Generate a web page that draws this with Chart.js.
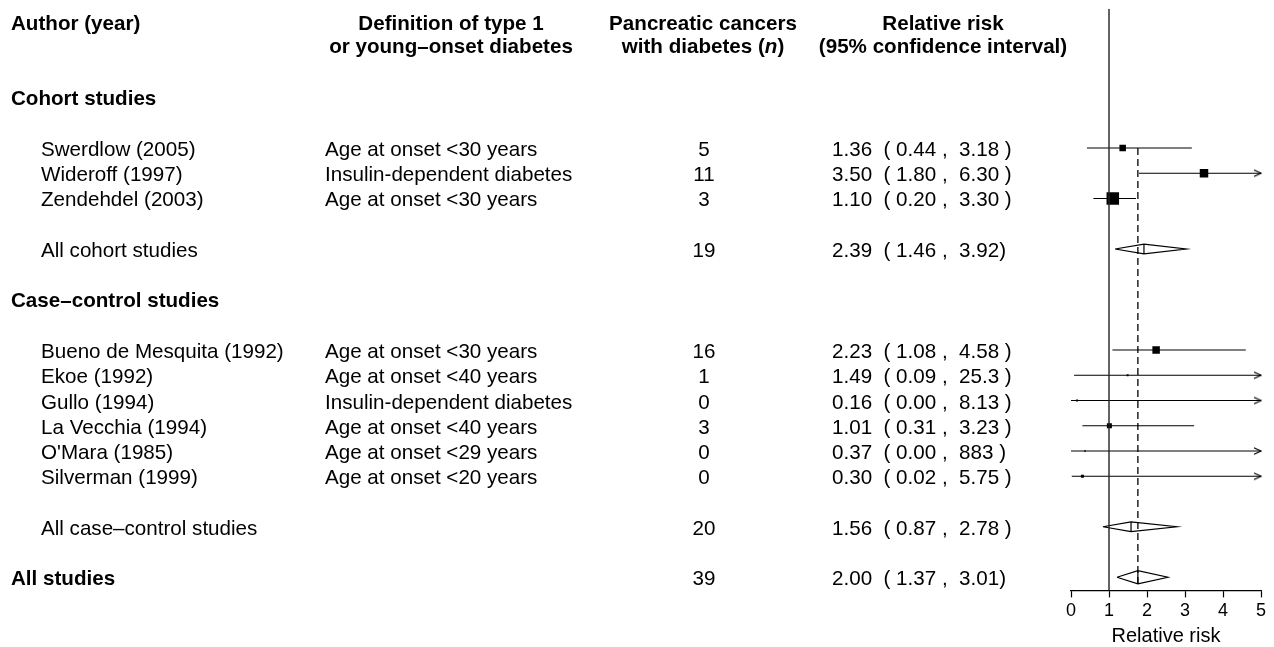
<!DOCTYPE html>
<html><head><meta charset="utf-8">
<script src="https://cdn.jsdelivr.net/npm/chart.js@4/dist/chart.umd.min.js"></script>
<style>html,body{margin:0;padding:0;background:#fff;}#wrap{width:1274px;height:647px;}</style>
</head><body><div id="wrap"><canvas id="c" width="1274" height="647"></canvas></div>
<script>
// ---- data ----
const studies = ["Swerdlow (2005)","Wideroff (1997)","Zendehdel (2003)","All cohort studies",
  "Bueno de Mesquita (1992)","Ekoe (1992)","Gullo (1994)","La Vecchia (1994)","O'Mara (1985)","Silverman (1999)",
  "All case\u2013control studies","All studies"];
const definitions = ["Age at onset <30 years","Insulin-dependent diabetes","Age at onset <30 years","",
  "Age at onset <30 years","Age at onset <40 years","Insulin-dependent diabetes","Age at onset <40 years","Age at onset <29 years","Age at onset <20 years",
  "",""];
const nCases = [5,11,3,19,16,1,0,3,0,0,20,39];
const rrText = ["1.36","3.50","1.10","2.39","2.23","1.49","0.16","1.01","0.37","0.30","1.56","2.00"];
const loText = ["0.44","1.80","0.20","1.46","1.08","0.09","0.00","0.31","0.00","0.02","0.87","1.37"];
const hiText = ["3.18","6.30","3.30","3.92","4.58","25.3","8.13","3.23","883","5.75","2.78","3.01"];
const closeText = [" )"," )"," )",")"," )"," )"," )"," )"," )"," )"," )",")"];
const rowKind = ["study","study","study","summary","study","study","study","study","study","study","summary","total"];
const rowIndex = [0,1,2,4,8,9,10,11,12,13,15,17];
// values as drawn in the plot panel
const plotEst = [1.36,3.50,1.10,1.92,2.24,1.49,0.16,1.01,0.37,0.30,1.58,1.76];
const plotLo  = [0.42,1.79,0.59,1.16,1.09,0.08,0.00,0.30,0.00,0.02,0.84,1.21];
const plotHi  = [3.18,6.30,1.71,3.03,4.60,25.3,8.13,3.24,883,5.75,2.78,2.55];
const boxWeight = [6.5,8.5,12.5,0,7.5,2,2,5,1.6,3,0,0];
const sectionLabels = ["Cohort studies","Case\u2013control studies"];
const sectionRows = [-2,6];
const xTicks = [0,1,2,3,4,5];
const pooledEstimate = 1.76;
const nullValue = 1;

// ---- layout / style constants ----
const X_MIN = 0, X_MAX = 5, Y_MIN = -5.51, Y_MAX = 17.52;
const FONT = '"Liberation Sans", Arial, Helvetica, sans-serif';
const FS = 20.6, SX = 1, BASE = 8;
const DIAMOND_H = {summary:0.19, total:0.26};

// arrow head image (tip at canvas centre)
const arrow = document.createElement('canvas');
arrow.width = 16; arrow.height = 10;
(function(){const a=arrow.getContext('2d');a.strokeStyle='#000';a.lineWidth=1.2;a.beginPath();
  a.moveTo(1,1.8);a.lineTo(8,5);a.lineTo(1,8.2);a.stroke();})();

const GAP = {x:null,y:null};
const ciData = [], boxData = [], boxRadius = [], arrowData = [], diamondData = [];
rowIndex.forEach((r,i)=>{
  if (rowKind[i]==='study') {
    ciData.push({x:plotLo[i],y:r},{x:Math.min(plotHi[i],X_MAX),y:r},GAP);
    boxData.push({x:plotEst[i],y:r});
    boxRadius.push(boxWeight[i]*Math.SQRT1_2);
    if (plotHi[i] > X_MAX) arrowData.push({x:X_MAX,y:r});
  } else {
    const h = DIAMOND_H[rowKind[i]];
    diamondData.push({x:plotLo[i],y:r},{x:plotEst[i],y:r-h},{x:plotHi[i],y:r},{x:plotEst[i],y:r+h},{x:plotLo[i],y:r},GAP,
      {x:plotEst[i],y:r-h},{x:plotEst[i],y:r+h},GAP);
  }
});

const lineDS = (data, extra) => Object.assign({type:'scatter',data,showLine:true,spanGaps:false,borderColor:'#000',
  borderWidth:1.2,pointRadius:0,pointHoverRadius:0,fill:false,tension:0}, extra||{});

const datasets = [
  lineDS([{x:nullValue,y:Y_MIN},{x:nullValue,y:Y_MAX}], {borderColor:'#222',borderWidth:1.4}),
  lineDS([{x:pooledEstimate,y:rowIndex[0]},{x:pooledEstimate,y:rowIndex[rowIndex.length-1]+DIAMOND_H.total}], {borderDash:[7,4],borderWidth:1.3}),
  lineDS(ciData),
  lineDS(diamondData),
  {type:'scatter',data:boxData,pointStyle:'rect',pointRadius:boxRadius,backgroundColor:'#000',borderWidth:0,pointHoverRadius:boxRadius},
  {type:'scatter',data:arrowData,pointStyle:arrow,pointRadius:6,clip:false}
];

function txt(ctx, s, x, y, align, style) {
  ctx.save();
  ctx.font = (style||'') + ' ' + FS + 'px ' + FONT;
  ctx.textBaseline = 'alphabetic';
  ctx.textAlign = align;
  ctx.fillStyle = '#000';
  ctx.translate(x, y); ctx.scale(SX, 1);
  ctx.fillText(s, 0, 0);
  ctx.restore();
}
function rich(ctx, segs, cx, y) {
  let total = 0;
  segs.forEach(s=>{ctx.font = s[1]+' '+FS+'px '+FONT; s.w = ctx.measureText(s[0]).width*SX; total += s.w;});
  let x = cx - total/2;
  segs.forEach(s=>{txt(ctx, s[0], x, y, 'left', s[1]); x += s.w;});
}

const tablePlugin = {
  id:'table',
  afterDraw(chart){
    const ctx = chart.ctx, ys = chart.scales.y;
    const py = r => ys.getPixelForValue(r) + BASE;
    // header
    const h1 = py(-4.97), h2 = py(-4.07);
    txt(ctx,'Author (year)',11,h1,'left','bold');
    txt(ctx,'Definition of type 1',451,h1,'center','bold');
    txt(ctx,'or young\u2013onset diabetes',451,h2,'center','bold');
    txt(ctx,'Pancreatic cancers',703,h1,'center','bold');
    rich(ctx,[['with diabetes (','bold'],['n','italic bold'],[')','bold']],703,h2);
    txt(ctx,'Relative risk',943,h1,'center','bold');
    txt(ctx,'(95% confidence interval)',943,h2,'center','bold');
    sectionLabels.forEach((s,i)=>txt(ctx,s,11,py(sectionRows[i]),'left','bold'));
    rowIndex.forEach((r,i)=>{
      const y = py(r);
      if (rowKind[i]==='total') txt(ctx,studies[i],11,y,'left','bold');
      else txt(ctx,studies[i],41,y,'left','');
      if (definitions[i]) txt(ctx,definitions[i],325,y,'left','');
      txt(ctx,String(nCases[i]),704,y,'center','');
      txt(ctx,rrText[i]+'  ( '+loText[i]+' ,  '+hiText[i]+closeText[i],832,y,'left','');
    });
  }
};

new Chart(document.getElementById('c'), {
  data:{datasets},
  options:{
    responsive:false, animation:false, devicePixelRatio:1,
    layout:{padding:{left:1071,right:13,top:5,bottom:0}},
    plugins:{legend:{display:false},tooltip:{enabled:false}},
    events:[],
    scales:{
      x:{type:'linear',position:'bottom',min:X_MIN,max:X_MAX,
        afterBuildTicks(s){s.ticks = xTicks.map(v=>({value:v}));},
        ticks:{font:{size:18,family:FONT},color:'#000',padding:3,autoSkip:false,maxRotation:0},
        grid:{drawOnChartArea:false,drawTicks:true,tickLength:7,tickColor:'#000',tickWidth:1.2},
        border:{display:true,color:'#000',width:1.2},
        title:{display:true,text:'Relative risk',color:'#000',font:{size:20,family:FONT,lineHeight:1.1},padding:{top:0,bottom:0}}
      },
      y:{type:'linear',display:false,min:Y_MIN,max:Y_MAX,reverse:true}
    }
  },
  plugins:[tablePlugin]
});
</script></body></html>
